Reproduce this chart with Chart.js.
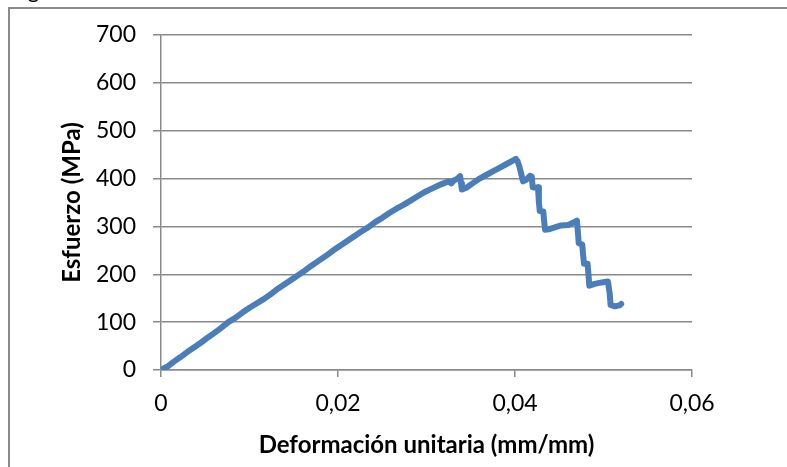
<!DOCTYPE html>
<html>
<head>
<meta charset="utf-8">
<script src="https://cdn.jsdelivr.net/npm/chart.js@4/dist/chart.umd.min.js"></script>
<style>
  html, body { margin: 0; padding: 0; background: #ffffff; }
  canvas { display: block; }
</style>
</head>
<body>
<canvas id="c" width="787" height="467"></canvas>
<script>
// Ensayo de tracción: deformación unitaria (mm/mm) y esfuerzo (MPa)
const strain = [
  0, 0.0008, 0.0015, 0.0022, 0.003, 0.0038, 0.0045, 0.0053, 0.006, 0.0068,
  0.0076, 0.0084, 0.0092, 0.01, 0.0108, 0.0115, 0.0123, 0.013, 0.0138, 0.0146,
  0.0154, 0.0162, 0.017, 0.0178, 0.0186, 0.0194, 0.0202, 0.021, 0.0218, 0.0226,
  0.0234, 0.0242, 0.025, 0.0258, 0.0266, 0.0274, 0.0282, 0.029, 0.0298, 0.0306,
  0.0314, 0.0322, 0.0326, 0.0328, 0.0331, 0.0335, 0.0338, 0.0339, 0.034, 0.0345,
  0.0352, 0.036, 0.0368, 0.0376, 0.0384, 0.0392, 0.0398, 0.0401, 0.0403, 0.0405,
  0.0407, 0.0409, 0.0413, 0.0417, 0.0419, 0.042, 0.0424, 0.0426, 0.0427, 0.0428,
  0.0432, 0.0433, 0.0434, 0.0438, 0.0445, 0.0452, 0.046, 0.0466, 0.047, 0.0471,
  0.0472, 0.0476, 0.0477, 0.0478, 0.0482, 0.0483, 0.0484, 0.049, 0.0498, 0.0505,
  0.0507, 0.0508, 0.0513, 0.0518, 0.052
];
const stress = [
  0, 8, 18, 27, 38, 48, 57, 68, 77, 88,
  100, 109, 120, 130, 139, 147, 157, 167, 177, 187,
  197, 207, 218, 228, 238, 249, 259, 269, 279, 289,
  298, 309, 318, 328, 337, 345, 354, 363, 372, 379,
  386, 392, 394, 390, 396, 400, 405, 390, 377, 381,
  390, 400, 408, 416, 424, 432, 438, 441, 436, 425,
  410, 394, 398, 406, 404, 382, 381, 382, 350, 332,
  331, 310, 293, 294, 298, 302, 303, 308, 312, 290,
  265, 262, 240, 222, 222, 200, 176, 180, 183, 185,
  160, 136, 133, 135, 138
];
const xTickValues = [0, 0.02, 0.04, 0.06];
const xTickLabels = ['0', '0,02', '0,04', '0,06'];
const yTickValues = [0, 100, 200, 300, 400, 500, 600, 700];

const FONT = 'Lato, "Noto Sans", sans-serif';
const GRID = '#8a8a8a';

const points = strain.map((s, i) => ({ x: s, y: stress[i] }));

// Marco del área del gráfico y línea de título superior (recortada por el borde)
const framePlugin = {
  id: 'frame',
  beforeDraw(chart) {
    const ctx = chart.ctx;
    ctx.save();
    ctx.fillStyle = '#ffffff';
    ctx.fillRect(0, 0, chart.width, chart.height);
    ctx.fillStyle = '#000000';
    ctx.font = '22px ' + FONT;
    ctx.textBaseline = 'alphabetic';
    ctx.fillText('Figura 5. Curva de esfuerzo vs deformación unitaria', 10, -2);
    ctx.strokeStyle = GRID;
    ctx.lineWidth = 2;
    ctx.beginPath();
    ctx.moveTo(9, chart.height);
    ctx.lineTo(9, 8);
    ctx.lineTo(chart.width, 8);
    ctx.stroke();
    ctx.restore();
  }
};

new Chart(document.getElementById('c'), {
  type: 'scatter',
  data: {
    datasets: [{
      data: points,
      showLine: true,
      borderColor: '#4a7ebb',
      backgroundColor: '#4a7ebb',
      borderWidth: 6,
      borderJoinStyle: 'round',
      borderCapStyle: 'round',
      pointRadius: 0,
      tension: 0
    }]
  },
  options: {
    responsive: false,
    animation: false,
    layout: { padding: { left: 0, right: 95, top: 35, bottom: 0 } },
    plugins: { legend: { display: false }, tooltip: { enabled: false } },
    scales: {
      x: {
        type: 'linear',
        min: 0,
        max: 0.06,
        afterBuildTicks: (s) => { s.ticks = xTickValues.map(v => ({ value: v })); },
        afterFit: (s) => { s.height = 97; },
        ticks: {
          autoSkip: false,
          maxRotation: 0,
          padding: 13,
          color: '#000000',
          font: { family: FONT, size: 23 },
          callback: (v) => xTickLabels[xTickValues.indexOf(v)]
        },
        grid: { drawOnChartArea: false, drawTicks: true, tickLength: 7, color: GRID, lineWidth: 1.5 },
        border: { color: GRID, width: 1.5 },
        title: {
          display: true,
          text: 'Deformación unitaria (mm/mm)',
          color: '#000000',
          font: { family: FONT, size: 24, weight: 'bold' },
          padding: { top: 0, bottom: 7 }
        }
      },
      y: {
        min: 0,
        max: 700,
        afterBuildTicks: (s) => { s.ticks = yTickValues.map(v => ({ value: v })); },
        afterFit: (s) => { s.width = 161; },
        ticks: {
          autoSkip: false,
          padding: 17,
          color: '#000000',
          font: { family: FONT, size: 23 }
        },
        grid: { drawTicks: true, tickLength: 8, color: GRID, lineWidth: 1.5 },
        border: { color: GRID, width: 1.5 },
        title: {
          display: true,
          text: 'Esfuerzo (MPa)',
          color: '#000000',
          font: { family: FONT, size: 24, weight: 'bold' },
          padding: { top: 58, bottom: 0 }
        }
      }
    }
  },
  plugins: [framePlugin]
});
</script>
</body>
</html>
